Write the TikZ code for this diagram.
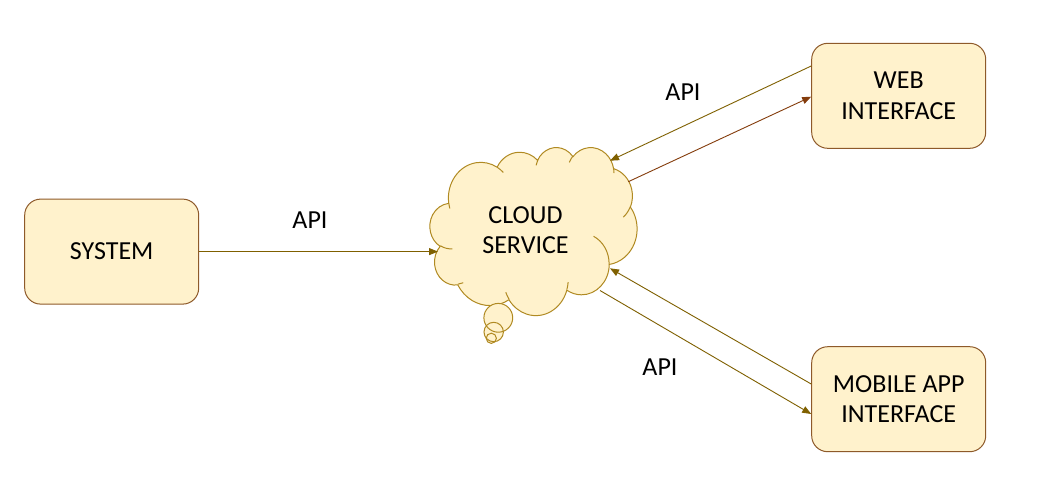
\documentclass[tikz,border=0pt]{standalone}
\usepackage{fontspec}
\setmainfont{Carlito}
\usetikzlibrary{arrows.meta}
\definecolor{boxfill}{HTML}{FFF2CC}
\definecolor{boxline}{HTML}{8E5A2A}
\definecolor{cloudline}{HTML}{B08A22}
\definecolor{olivearrow}{HTML}{7F6000}
\definecolor{rustarrow}{HTML}{843C0C}
% elliptic arc in DrawingML convention (visual angles), converted to parametric
\newcommand\carc[4]{arc[x radius=#1, y radius=#2,
  start angle={atan2(sin(#3)*#1,cos(#3)*#2)},
  delta angle={mod(atan2(sin((#3)+(#4))*#1,cos((#3)+(#4))*#2)-atan2(sin(#3)*#1,cos(#3)*#2)+720,360)}]}
\begin{document}
\begin{tikzpicture}[x=1pt,y=-1pt,
  every node/.style={font=\fontsize{26}{30.5}\selectfont, text=black},
  box/.style={draw=boxline, fill=boxfill, line width=1pt, rounded corners=16pt,
    minimum width=174pt, minimum height=105pt, align=center, inner sep=0pt},
  label/.style={inner sep=0pt, align=center},
  conn/.style={line width=0.9pt, -{Triangle[length=9pt,width=7pt]}},
  cloudstroke/.style={draw=cloudline, line width=1pt}]
\useasboundingbox[fill=white] (0,0) rectangle (1063,496);

% cloud (PowerPoint cloud callout geometry)
\begin{scope}[xshift=430pt, yshift=-147pt, x=4.7917pt, y=-3.8889pt]
  \path[cloudstroke, fill=boxfill] (3.9,14.37)
    \carc{6.753}{9.19}{-190.487}{123.781}
    \carc{5.333}{7.267}{-144.102}{89.945}
    \carc{4.365}{5.945}{-145.808}{99.723}
    \carc{4.857}{6.595}{-130.986}{117.242}
    \carc{5.333}{7.273}{-78.709}{109.027}
    \carc{6.775}{9.22}{-46.267}{130.269}
    \carc{5.785}{7.867}{0.625}{114.033}
    \carc{6.752}{9.215}{22.452}{115.173}
    \carc{7.72}{10.543}{66.243}{75.711}
    \carc{4.36}{5.918}{-274.942}{146.736}
    \carc{4.345}{5.945}{-246.829}{152.519}
    -- cycle;
  \path[cloudstroke]
    (4.693,26.177) \carc{4.345}{5.945}{86.742}{26.430}
    (6.928,34.899) \carc{4.36}{5.918}{73.610}{11.447}
    (16.478,39.090) \carc{6.752}{9.215}{137.624}{14.081}
    (28.827,34.751) \carc{6.752}{9.215}{6.453}{15.998}
    (34.129,22.954) \carc{5.785}{7.867}{-70.292}{70.917}
    (41.798,15.354) \carc{5.333}{7.273}{30.318}{27.752}
    (38.324,5.426) \carc{4.857}{6.595}{-13.744}{14.859}
    (29.078,3.952) \carc{4.857}{6.595}{-149.181}{18.195}
    (22.141,4.720) \carc{4.365}{5.945}{-163.494}{17.686}
    (14.000,5.192) \carc{6.753}{9.19}{-66.707}{12.319}
    (4.127,15.789) \carc{6.753}{9.19}{157.654}{11.858};
\end{scope}
% thought-bubble tail
\fill[boxfill] (498.3,317.8) circle[radius=14.4pt];
\fill[boxfill] (493.7,332) circle[radius=9.7pt];
\fill[boxfill] (491.3,338.3) circle[radius=5.1pt];
\draw[cloudstroke] (498.3,317.8) circle[radius=14.4pt];
\draw[cloudstroke] (493.7,332) circle[radius=9.7pt];
\draw[cloudstroke] (491.3,338.3) circle[radius=5.1pt];

\node[label] (cloudtext) at (525.5,230) {CLOUD\\SERVICE};

% boxes
\node[box] (sys) at (111.7,251.6) {SYSTEM};
\node[box] (web) at (898.7,95.8) {WEB\\INTERFACE};
\node[box] (mob) at (898.7,399.2) {MOBILE APP\\INTERFACE};

% connection points on the cloud outline
\coordinate (cw) at (438,251.6);
\coordinate (cne1) at (610,160.7);
\coordinate (cne2) at (628.3,181.7);
\coordinate (cse1) at (610,268.3);
\coordinate (cse2) at (600,290.5);

% connectors
\draw[conn, olivearrow] (sys.east) -- (cw);
\draw[conn, olivearrow] ([yshift=29.8pt]web.west) -- (cne1);
\draw[conn, rustarrow] (cne2) -- ([yshift=-0.9pt]web.west);
\draw[conn, olivearrow] ([yshift=15.2pt]mob.west) -- (cse1);
\draw[conn, olivearrow] (cse2) -- ([yshift=-14.8pt]mob.west);

% labels
\node[label] (api1) at (310,220) {API};
\node[label] (api2) at (683,92.5) {API};
\node[label] (api3) at (660,367.5) {API};
\end{tikzpicture}
\end{document}
